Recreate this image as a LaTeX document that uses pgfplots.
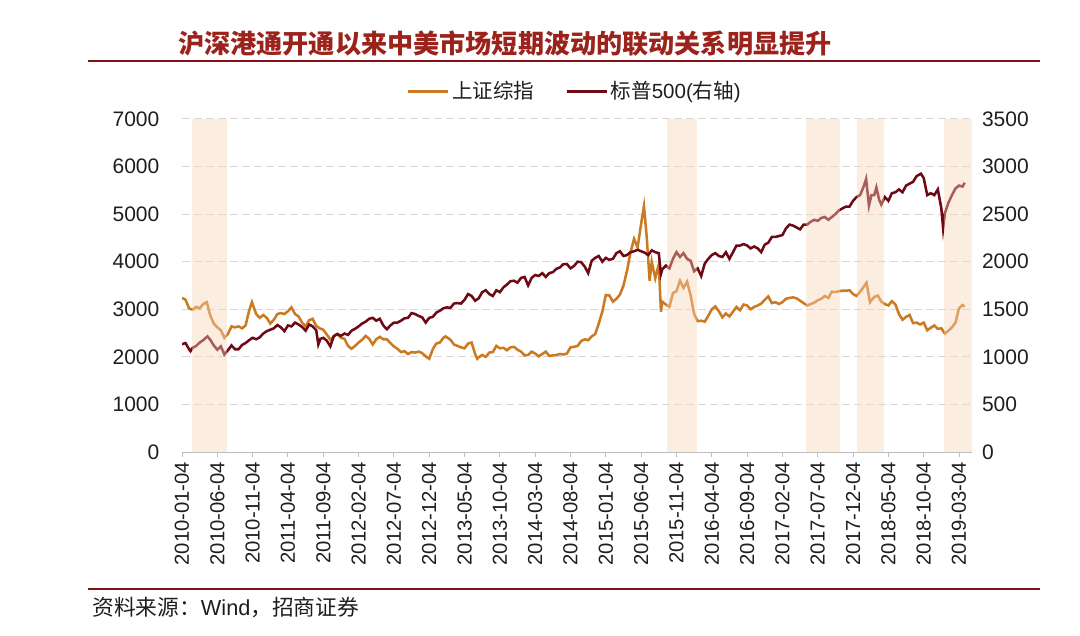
\documentclass[border=0pt]{standalone}
\usepackage{fontspec}
\setmainfont{Liberation Sans}
\newfontfamily\cjk{Noto Sans CJK SC}
\usepackage{pgfplots}
\pgfplotsset{compat=1.18}
\definecolor{sse}{RGB}{204,122,34}
\definecolor{spx}{RGB}{110,10,22}
\definecolor{shade}{RGB}{248,212,184}
\definecolor{titlered}{RGB}{155,35,28}
\definecolor{linered}{RGB}{130,15,20}
\definecolor{gridc}{RGB}{215,215,215}
\definecolor{axisc}{RGB}{190,190,190}
\definecolor{txt}{RGB}{30,30,30}
\begin{document}
\begin{tikzpicture}
\useasboundingbox (0,0) rectangle (810pt,476.25pt);
\node[anchor=west, inner sep=0, text=titlered, font=\cjk\bfseries\fontsize{19.6}{21}\selectfont] at (133.5pt,443.6pt) {沪深港通开通以来中美市场短期波动的联动关系明显提升};
\draw[linered, line width=1.5pt] (66pt,430.5pt) -- (780pt,430.5pt);
\draw[linered, line width=2pt] (66pt,34.5pt) -- (780pt,34.5pt);
\node[anchor=west, inner sep=0, text=txt, font=\fontsize{16.3}{19}\selectfont] at (69pt,21pt) {{\cjk 资料来源：}Wind{\cjk ，招商证券}};

\begin{axis}[
 at={(136.5pt,137.25pt)}, anchor=south west,
 scale only axis, width=592.5pt, height=249.75pt,
 xmin=0, xmax=111.84, ymin=0, ymax=7000,
 axis x line*=bottom, axis y line*=left,
 x axis line style={draw=axisc, line width=0.75pt},
 y axis line style={draw=none},
 xtick={0,5,...,110},
 xticklabels={2010-01-04,2010-06-04,2010-11-04,2011-04-04,2011-09-04,2012-02-04,2012-07-04,2012-12-04,2013-05-04,2013-10-04,2014-03-04,2014-08-04,2015-01-04,2015-06-04,2015-11-04,2016-04-04,2016-09-04,2017-02-04,2017-07-04,2017-12-04,2018-05-04,2018-10-04,2019-03-04},
 xtick style={draw=axisc, line width=0.75pt},
 ytick style={draw=none},
 tick align=outside,
 major tick length=3.75pt,
 ytick={0,1000,...,7000},
 ymajorgrids, grid style={gridc, dash pattern=on 6pt off 3pt, line width=0.75pt},
 /pgf/number format/assume math mode=true,
 /pgf/number format/1000 sep={},
 yticklabel style={font=\fontsize{15.75}{18}\selectfont, text=txt, xshift=-9.75pt},
 xticklabel style={font=\fontsize{15.2}{18}\selectfont, text=txt, rotate=90, anchor=east},
]
\addplot[sse, line width=1.9pt] coordinates {
(0,3243)(0.5,3200)(1,3020)(1.5,2990)(2,3050)(2.5,3020)(3,3110)(3.5,3150)(4,2870)(4.5,2700)
(5,2620)(5.5,2560)(6,2400)(6.5,2480)(7,2640)(7.5,2620)(8,2640)(8.5,2600)(9,2660)(9.5,2970)
(9.9,3150)(10.5,2900)(11,2820)(11.5,2880)(12,2820)(12.5,2700)(13,2780)(13.5,2900)(14,2920)(14.5,2900)
(15,2960)(15.5,3040)(16,2900)(16.5,2850)(17,2720)(17.5,2640)(18,2770)(18.5,2800)(19,2650)(19.5,2600)
(20,2570)(20.5,2470)(21,2360)(21.5,2430)(22,2480)(22.5,2400)(23,2380)(23.5,2230)(24,2170)(24.5,2230)
(25,2300)(25.5,2360)(26,2440)(26.5,2380)(27,2260)(27.5,2370)(28,2420)(28.5,2370)(29,2370)(29.5,2290)
(30,2220)(30.5,2170)(31,2100)(31.5,2120)(32,2060)(32.5,2100)(33,2090)(33.5,2110)(34,2080)(34.5,2010)
(35,1960)(35.5,2160)(36,2280)(36.5,2300)(37,2400)(37.3,2430)(38,2360)(38.5,2260)(39,2230)(39.5,2200)
(40,2180)(40.5,2280)(41,2300)(41.5,2060)(41.8,1960)(42,1990)(42.5,2040)(43,2000)(43.5,2090)(44,2100)
(44.5,2230)(45,2180)(45.5,2190)(46,2140)(46.5,2200)(47,2210)(47.5,2150)(48,2110)(48.5,2030)(49,2040)
(49.5,2110)(50,2070)(50.5,2010)(51,2060)(51.5,2110)(52,2020)(52.5,2030)(53,2040)(53.5,2060)(54,2050)
(54.5,2070)(55,2200)(55.5,2210)(56,2230)(56.5,2330)(57,2370)(57.5,2350)(58,2430)(58.5,2480)(59,2700)
(59.5,2950)(60,3300)(60.5,3290)(61,3160)(61.5,3220)(62,3310)(62.5,3500)(63,3810)(63.5,4200)(64,4480)
(64.5,4300)(65,4800)(65.4,5170)(65.8,4500)(66.2,3600)(66.5,4000)(67,3650)(67.5,3950)(67.8,2950)(68,3160)
(68.5,3100)(69,3050)(69.5,3340)(70,3380)(70.5,3600)(71,3450)(71.5,3580)(72,3300)(72.5,2900)(73,2750)
(73.5,2760)(74,2740)(74.5,2860)(75,3000)(75.5,3060)(76,2960)(76.5,2830)(77,2910)(77.5,2850)(78,2950)
(78.5,3050)(79,2980)(79.5,3100)(80,3080)(80.5,3000)(81,3050)(81.5,3080)(82,3120)(82.5,3200)(83,3270)
(83.5,3130)(84,3150)(84.5,3110)(85,3150)(85.5,3220)(86,3240)(86.5,3250)(87,3230)(87.5,3180)(88,3130)
(88.5,3080)(89,3110)(89.5,3140)(90,3190)(90.5,3220)(91,3280)(91.5,3240)(92,3370)(92.5,3360)(93,3380)
(93.5,3390)(94,3390)(94.5,3400)(95,3320)(95.5,3280)(96,3370)(96.5,3470)(96.9,3560)(97.4,3150)(98,3260)
(98.5,3290)(99,3160)(99.5,3110)(100,3080)(100.5,3170)(101,3100)(101.5,2900)(102,2780)(102.5,2840)(103,2880)
(103.5,2710)(104,2720)(104.5,2680)(105,2720)(105.5,2560)(106,2610)(106.5,2660)(107,2590)(107.5,2600)(108,2490)
(108.5,2550)(109,2620)(109.5,2720)(110,3020)(110.5,3090)(110.8,3060)
};
\end{axis}

\begin{axis}[
 at={(136.5pt,137.25pt)}, anchor=south west,
 scale only axis, width=592.5pt, height=249.75pt,
 xmin=0, xmax=111.84, ymin=0, ymax=3500,
 hide x axis,
 axis y line*=right,
 y axis line style={draw=none},
 ytick style={draw=none},
 ytick={0,500,...,3500},
 /pgf/number format/assume math mode=true,
 /pgf/number format/1000 sep={},
 yticklabel style={font=\fontsize{15.75}{18}\selectfont, text=txt, xshift=4pt},
 legend style={at={(0.4975,1.084)}, anchor=center, draw=none, fill=none, legend columns=2,
   font=\fontsize{15.4}{18}\selectfont, text=txt,
   /tikz/every even column/.append style={column sep=21pt}},
 legend image code/.code={\draw[#1, line width=2.25pt] (0pt,0pt) -- (30pt,0pt);},
]
\addlegendimage{sse}
\addlegendentry{{\cjk 上证综指}}
\addplot[spx, line width=1.9pt] coordinates {
(0,1133)(0.5,1145)(1,1080)(1.2,1060)(1.5,1095)(2,1115)(2.5,1150)(3,1175)(3.6,1215)(4,1180)
(4.5,1120)(5,1075)(5.5,1110)(6,1025)(6.5,1070)(7,1120)(7.5,1080)(8,1080)(8.5,1125)(9,1145)
(9.5,1175)(10,1200)(10.5,1185)(11,1205)(11.5,1245)(12,1270)(12.5,1285)(13,1300)(13.5,1335)(14,1310)
(14.5,1270)(15,1330)(15.5,1320)(16,1360)(16.5,1340)(17,1315)(17.5,1275)(18,1340)(18.5,1320)(19,1280)
(19.3,1130)(19.6,1190)(20,1200)(20.5,1170)(21,1110)(21.5,1220)(22,1240)(22.5,1220)(23,1245)(23.5,1230)
(24,1275)(24.5,1295)(25,1320)(25.5,1350)(26,1370)(26.5,1400)(27,1410)(27.5,1380)(28,1400)(28.5,1330)
(29,1290)(29.5,1330)(30,1360)(30.5,1360)(31,1380)(31.5,1405)(32,1410)(32.5,1460)(33,1450)(33.5,1430)
(34,1415)(34.5,1360)(35,1410)(35.5,1420)(36,1465)(36.5,1485)(37,1510)(37.5,1520)(38,1515)(38.5,1560)
(39,1565)(39.5,1560)(40,1600)(40.5,1660)(41,1640)(41.5,1590)(42,1615)(42.5,1680)(43,1700)(43.5,1660)
(44,1640)(44.5,1700)(45,1680)(45.5,1730)(46,1760)(46.5,1795)(47,1800)(47.5,1780)(48,1830)(48.5,1840)
(49,1750)(49.5,1830)(50,1860)(50.5,1850)(51,1880)(51.5,1840)(52,1880)(52.5,1890)(53,1925)(53.5,1940)
(54,1975)(54.5,1975)(55,1930)(55.5,1955)(56,2000)(56.5,1995)(57,1950)(57.5,1880)(58,2010)(58.5,2040)
(59,2060)(59.5,2000)(60,2040)(60.5,2020)(61,2030)(61.5,2090)(62,2110)(62.5,2060)(63,2070)(63.5,2100)
(64,2110)(64.5,2125)(65,2110)(65.5,2095)(66,2070)(66.5,2120)(67,2100)(67.5,2090)(67.8,1870)(68,1920)
(68.5,1960)(69,1930)(69.5,2030)(70,2100)(70.5,2050)(71,2090)(71.5,2030)(72,2010)(72.5,1900)(73,1930)
(73.5,1850)(74,1980)(74.5,2030)(75,2070)(75.5,2090)(76,2060)(76.5,2050)(77,2100)(77.5,2030)(78,2100)
(78.5,2170)(79,2170)(79.5,2185)(80,2170)(80.5,2140)(81,2160)(81.5,2140)(82,2100)(82.5,2180)(83,2200)
(83.5,2260)(84,2260)(84.5,2270)(85,2280)(85.5,2350)(86,2390)(86.5,2380)(87,2360)(87.5,2340)(88,2390)
(88.5,2390)(89,2420)(89.5,2440)(90,2430)(90.5,2460)(91,2470)(91.5,2440)(92,2470)(92.5,2500)(93,2540)
(93.5,2560)(94,2580)(94.5,2580)(95,2640)(95.5,2680)(96,2700)(96.5,2790)(96.85,2870)(97.25,2590)(97.6,2700)
(98,2700)(98.3,2780)(98.7,2650)(99,2600)(99.5,2680)(100,2640)(100.5,2720)(101,2730)(101.5,2760)(102,2730)
(102.5,2800)(103,2820)(103.5,2840)(104,2900)(104.6,2925)(105,2880)(105.5,2700)(106,2720)(106.5,2700)(107,2760)
(107.5,2560)(107.75,2350)(108,2510)(108.5,2620)(109,2700)(109.5,2770)(110,2800)(110.5,2790)(110.8,2830)
};
\addlegendentry{{\cjk 标普}500({\cjk 右轴})}
\addplot[forget plot, draw=none, fill=shade, fill opacity=0.42] coordinates {(1.37,3500) (6.33,3500)} \closedcycle;
\addplot[forget plot, draw=none, fill=shade, fill opacity=0.42] coordinates {(68.6,3500) (72.9,3500)} \closedcycle;
\addplot[forget plot, draw=none, fill=shade, fill opacity=0.42] coordinates {(88.3,3500) (93.2,3500)} \closedcycle;
\addplot[forget plot, draw=none, fill=shade, fill opacity=0.42] coordinates {(95.5,3500) (99.4,3500)} \closedcycle;
\addplot[forget plot, draw=none, fill=shade, fill opacity=0.42] coordinates {(107.9,3500) (111.84,3500)} \closedcycle;
\end{axis}
\end{tikzpicture}
\end{document}
